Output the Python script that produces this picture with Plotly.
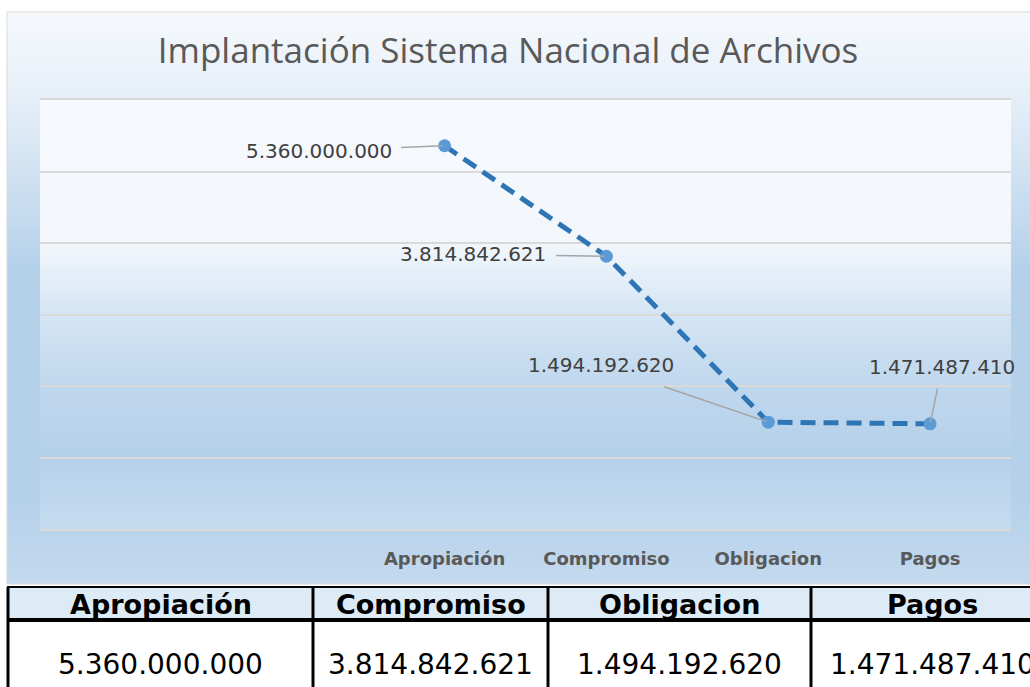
import base64, struct, zlib
import plotly.graph_objects as go

# ---------------- data ----------------
title = "Implantación Sistema Nacional de Archivos"
categories = ["Apropiación", "Compromiso", "Obligacion", "Pagos"]
values = [5360000000, 3814842621, 1494192620, 1471487410]
label_offsets = [(-126, 5), (-133, -2), (-167, -57), (12, -57)]  # label placement (px)


def fmt(v):
    return f"{v:,}".replace(",", ".")


# ---------------- geometry helpers ----------------
W, H = 1030, 687
PL, PR, PT, PB = 40, 1011, 100, 529


def px(x):
    return (x - PL) / (PR - PL)


def py(y):
    return (PB - y) / (PB - PT)


def hex2rgb(h):
    h = h.lstrip("#")
    return tuple(int(h[i:i + 2], 16) for i in (0, 2, 4))


def gradient_png(stops, n=400):
    stops = [(t, hex2rgb(c)) for t, c in stops]
    raw = b""
    for i in range(n):
        t = i / (n - 1)
        for j in range(len(stops) - 1):
            t0, c0 = stops[j]
            t1, c1 = stops[j + 1]
            if t0 <= t <= t1:
                f = 0 if t1 == t0 else (t - t0) / (t1 - t0)
                c = tuple(int(round(c0[k] + (c1[k] - c0[k]) * f)) for k in range(3))
                break
        raw += b"\x00" + bytes(c) * 2
    def chunk(tag, data):
        return struct.pack(">I", len(data)) + tag + data + struct.pack(">I", zlib.crc32(tag + data) & 0xffffffff)
    png = b"\x89PNG\r\n\x1a\n" + chunk(b"IHDR", struct.pack(">IIBBBBB", 2, n, 8, 2, 0, 0, 0)) \
        + chunk(b"IDAT", zlib.compress(raw, 9)) + chunk(b"IEND", b"")
    return "data:image/png;base64," + base64.b64encode(png).decode()


chart_bg = gradient_png([(0, "#F6F9FC"), (0.15, "#E6EFF8"), (0.45, "#B5D1EA"),
                         (0.85, "#B5D1EA"), (1.0, "#C3D9EE")])
plot_bg = gradient_png([(0, "#F6F9FD"), (0.33, "#F3F7FC"), (0.5, "#D5E5F4"),
                        (0.67, "#BFD7ED"), (0.83, "#B5D1EA"), (1.0, "#C5DBEF")])

fig = go.Figure()

x_idx = list(range(len(categories)))
fig.add_trace(go.Scatter(
    x=x_idx, y=values, mode="lines+markers",
    line=dict(color="#2E75B6", width=5, dash="15px,8px"),
    marker=dict(color="#5B9BD5", size=13),
    hoverinfo="skip", showlegend=False,
))

annotations = []
for i, (v, (ax, ay)) in enumerate(zip(values, label_offsets)):
    annotations.append(dict(
        x=i, y=v, xref="x", yref="y", text=fmt(v),
        showarrow=True, arrowhead=0, arrowwidth=1.5, arrowcolor="#A5A5A5",
        ax=ax, ay=ay, standoff=2, borderpad=9,
        font=dict(family="DejaVu Sans", size=20, color="#404040"),
    ))

# ---------------- table ----------------
col_edges = [8, 313, 548, 811, 1053]
t_top, t_sep, t_bot = 587, 620, 700
shapes = []
shapes.append(dict(type="rect", xref="paper", yref="paper", layer="above",
                   x0=px(8), x1=px(1060), y0=py(587), y1=py(619),
                   fillcolor="#DDEBF7", line=dict(width=0)))
shapes.append(dict(type="rect", xref="paper", yref="paper", layer="above",
                   x0=px(8), x1=px(1060), y0=py(622), y1=py(700),
                   fillcolor="#FFFFFF", line=dict(width=0)))
shapes.append(dict(type="line", xref="paper", yref="paper", layer="above",
                   x0=px(7), x1=px(1060), y0=py(t_top), y1=py(t_top),
                   line=dict(color="#000000", width=2)))
shapes.append(dict(type="line", xref="paper", yref="paper", layer="above",
                   x0=px(7), x1=px(1060), y0=py(t_sep), y1=py(t_sep),
                   line=dict(color="#000000", width=4)))
for xe in col_edges:
    shapes.append(dict(type="line", xref="paper", yref="paper", layer="above",
                       x0=px(xe), x1=px(xe), y0=py(t_top), y1=py(t_bot),
                       line=dict(color="#000000", width=3)))
# chart area border
shapes.append(dict(type="rect", xref="paper", yref="paper", layer="below",
                   x0=px(7), x1=px(1100), y0=py(584), y1=py(12),
                   fillcolor="rgba(0,0,0,0)", line=dict(color="#D9D9D9", width=1)))

for i, (c, v) in enumerate(zip(categories, values)):
    xc = (col_edges[i] + col_edges[i + 1]) / 2
    annotations.append(dict(x=px(xc), y=py(604), xref="paper", yref="paper", text=c,
                            showarrow=False, xanchor="center", yanchor="middle",
                            font=dict(family="DejaVu Sans", size=27, color="#000000", weight="bold")))
    annotations.append(dict(x=px(xc), y=py(664), xref="paper", yref="paper", text=fmt(v),
                            showarrow=False, xanchor="center", yanchor="middle",
                            font=dict(family="DejaVu Sans", size=28, color="#000000")))

images = [
    dict(source=chart_bg, xref="paper", yref="paper", x=px(7), y=py(12),
         sizex=px(1100) - px(7), sizey=py(12) - py(584), sizing="stretch",
         xanchor="left", yanchor="top", layer="below"),
    dict(source=plot_bg, xref="paper", yref="paper", x=0, y=1, sizex=1, sizey=1,
         sizing="stretch", xanchor="left", yanchor="top", layer="below"),
]

fig.update_layout(
    width=W, height=H, autosize=False,
    margin=dict(l=PL, r=W - PR, t=PT, b=H - PB),
    paper_bgcolor="#FFFFFF", plot_bgcolor="rgba(0,0,0,0)",
    title=dict(text=title, x=508 / W, xref="container", xanchor="center",
               y=1 - 51 / H, yref="container", yanchor="middle",
               font=dict(family="Open Sans", size=35, color="#595959")),
    xaxis=dict(range=[-2.5, 3.5], tickvals=x_idx, ticktext=categories,
               showgrid=False, zeroline=False, showline=True, mirror=True,
               linecolor="#D9D9D9", linewidth=2, ticks="", ticklabelstandoff=12,
               tickfont=dict(family="DejaVu Sans", size=18, color="#595959", weight="bold"),
               fixedrange=True),
    yaxis=dict(range=[0, 6e9], dtick=1e9, showticklabels=False, showgrid=True,
               gridcolor="#D9D9D9", gridwidth=2, zeroline=False, showline=False,
               ticks="", fixedrange=True),
    shapes=shapes, annotations=annotations, images=images,
    showlegend=False, hovermode=False,
)

fig.write_html("out.html", config={"displayModeBar": False},
               post_script="document.body.style.margin='0';")
